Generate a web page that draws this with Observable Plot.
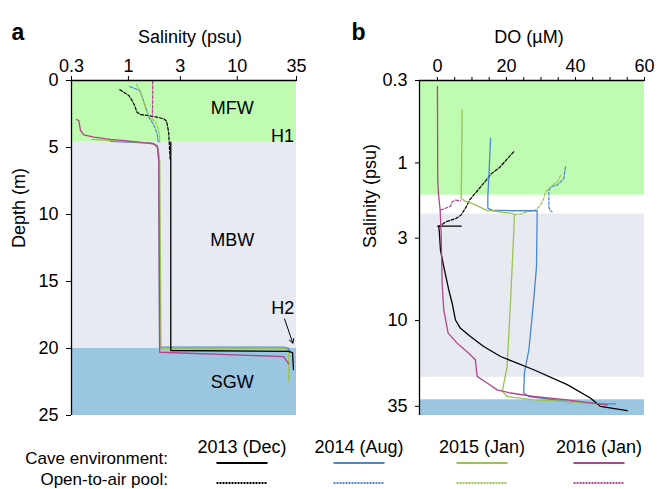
<!DOCTYPE html>
<html><head><meta charset="utf-8">
<script src="https://cdn.jsdelivr.net/npm/d3@7"></script>
<script src="https://cdn.jsdelivr.net/npm/@observablehq/plot@0.6"></script>
<style>
html,body{margin:0;padding:0;background:#fff;overflow:hidden;}
#root{position:relative;width:659px;height:489px;font-family:"Liberation Sans",Arial,Helvetica,sans-serif;}
#root > *{position:absolute;}
</style></head><body><div id="root"></div>
<script>
// ---------- data ----------
const years = ["2013 (Dec)", "2014 (Aug)", "2015 (Jan)", "2016 (Jan)"];
const rowLabels = ["Cave environment:", "Open-to-air pool:"];

// panel a: [salinity (psu), depth (m)]
const salTicks = [0.3, 1, 3, 10, 35];
const depthTicks = [0, 5, 10, 15, 20, 25];
const zonesA = ["MFW", "MBW", "SGW"];
const zoneTopA = [0, 4.55, 20];
const zoneBottomA = [4.55, 20, 25];

const cave2013A = [[2.45,4.6],[2.45,20.15],[29.6,20.22],[32.2,20.3],[32.8,21.57]];
const cave2014A = [[0.684,4.55],[0.975,4.6],[1.60,4.68],[1.84,4.85],[1.90,5.97],[1.93,19.9],[26.6,19.9],[29.6,20.0],[30.3,20.3]];
const cave2015A = [[0.465,4.40],[0.684,4.49],[0.975,4.55],[1.71,4.72],[1.88,5.10],[1.94,5.97],[1.99,19.98],[27.7,19.98],[29.7,20.3],[29.7,22.4]];
const cave2016A = [[0.333,2.91],[0.350,2.99],[0.363,3.73],[0.389,4.05],[0.481,4.23],[0.684,4.40],[0.975,4.50],[1.38,4.63],[1.71,4.72],[1.86,4.98],[1.90,5.97],[1.94,20.28],[26.7,20.6],[29.7,21.14]];
const pool2013A = [[0.834,0.69],[0.906,0.87],[1.01,1.12],[1.08,1.49],[1.14,1.87],[1.20,2.37],[1.29,2.54],[1.49,2.61],[1.84,2.74],[2.11,2.86],[2.24,3.04],[2.30,3.49],[2.35,3.98],[2.38,4.98],[2.42,5.97]];
const pool2014A = [[1.03,0.45],[1.16,0.62],[1.27,0.75],[1.34,1.25],[1.44,1.99],[1.51,2.49],[1.57,2.86],[1.65,3.11],[1.75,3.49],[1.84,3.98],[1.88,4.60]];
const pool2015A = [[1.19,0.25],[1.22,0.5],[1.29,0.87],[1.37,1.49],[1.44,2.11],[1.51,2.49],[1.60,2.78],[1.77,3.11],[1.86,3.49],[1.93,3.98],[1.94,4.60]];
const pool2016A = [[1.67,0.05],[1.67,1.5],[1.66,2.74]];

// panel b: [DO (uM), salinity (psu)]
const doTicks = [0,5,10,15,20,25,30,35,40,45,50,55,60];
const doTickLabels = [0, 20, 40, 60];
const salTicksB = [0.3, 1, 3, 10, 35];
const bandTopB = [0.3, 2.11, 31.8];
const bandBottomB = [1.60, 22.9, 40];

const cave2013B = [[6.87,2.52],[0.09,2.52],[0.38,2.54],[0.58,2.80],[0.87,3.57],[1.83,4.55],[3.28,6.39],[4.26,7.76],[5.22,9.91],[6.67,11.2],[9.57,12.6],[13.4,14.6],[18.3,16.9],[27.9,20.5],[37.6,25.5],[44.3,31.0],[47.2,35.0],[55.0,37.3]];
const cave2014B = [[15.4,0.70],[15.2,0.872],[14.9,1.23],[14.6,1.64],[14.6,1.94],[15.9,1.99],[22.1,2.01],[28.9,2.01],[28.9,2.04],[28.7,4.55],[27.9,7.39],[26.5,15.3],[25.2,21.5],[25.0,28.8],[26.5,30.3],[37.6,32.6],[47.2,33.6],[51.6,33.8]];
const cave2015B = [[7.16,0.459],[6.96,1.29],[6.87,1.68],[7.83,1.74],[10.2,1.81],[12.2,1.90],[14.1,1.99],[18.0,2.04],[21.8,2.09],[22.3,2.15],[22.1,2.8],[21.2,7.39],[20.2,19.5],[18.8,28.1],[20.2,30.3],[27.9,31.8],[37.6,32.6],[45.3,33.6],[49.2,34.5]];
const cave2016B = [[0,0.327],[0.09,1.29],[0.29,1.56],[0.58,1.81],[0.78,1.99],[0.87,2.2],[1.07,2.79],[1.36,5.8],[1.83,8.55],[3.10,12.0],[5.71,13.9],[9.07,16.1],[11.0,17.7],[11.5,22.6],[14.4,24.9],[17.3,27.5],[21.2,28.8],[27.9,30.3],[37.6,31.8],[44.3,33.3],[49.2,34.2]];
const pool2013B = [[0.29,2.54],[2.52,2.36],[5.42,2.25],[6.87,2.14],[8.32,1.90],[9.28,1.72],[11.7,1.49],[14.1,1.29],[15.6,1.17],[18.0,1.07],[19.9,0.96],[22.3,0.84]];
const pool2014B = [[37.1,1.06],[36.6,1.26],[34.7,1.38],[32.8,1.42],[32.3,1.50],[32.3,1.90],[32.6,2.0],[33.2,2.04]];
const pool2015B = [[35.7,1.20],[34.7,1.32],[32.8,1.42],[31.3,1.53],[30.8,1.68],[29.9,1.85],[28.4,1.99],[26.0,2.04],[24.1,2.11],[22.3,2.13]];
const pool2016B = [[0.87,1.99],[2.32,1.94],[3.77,1.88],[4.26,1.77],[5.22,1.72],[6.67,1.74]];

// ---------- styles ----------
const colors = ["#000000", "#4b87cf", "#9cc254", "#b1468a"];
const zoneFill = ["#bffbb0", "#e7eaf1", "#9bc6e1"];
const FONT = "'Liberation Sans', Arial, Helvetica, sans-serif";
const FS = 18;
const DASH = "3,1.8";
const LW = 1.3;

const seriesA = [
  [pool2013A,0,true],[pool2014A,1,true],[pool2015A,2,true],[pool2016A,3,true],
  [cave2014A,1,false],[cave2015A,2,false],[cave2013A,0,false],[cave2016A,3,false]
];
const seriesB = [
  [pool2013B,0,true],[pool2014B,1,true],[pool2015B,2,true],[pool2016B,3,true],
  [cave2014B,1,false],[cave2015B,2,false],[cave2013B,0,false],[cave2016B,3,false]
];
const lineMarks = (series) => series.map(([pts, yi, dashed]) =>
  Plot.line(pts, {x: d => d[0], y: d => d[1], stroke: colors[yi], strokeWidth: dashed ? 1.2 : LW,
    strokeDasharray: dashed ? DASH : null, curve: "linear"}));

const root = document.getElementById("root");
const style = {fontFamily: FONT, fontSize: FS + "px", background: "transparent", overflow: "visible", color: "#000"};

// ---------- panel a ----------
const zoneRowsA = zonesA.map((z, i) => ({z, top: zoneTopA[i], bottom: zoneBottomA[i], i}));
const plotA = Plot.plot({
  width: 330, height: 420,
  marginLeft: 71, marginRight: 34, marginTop: 80, marginBottom: 5,
  style,
  x: {type: "log", domain: [0.3, 35], axis: null},
  y: {domain: [0, 25], reverse: true, axis: null},
  marks: [
    Plot.rect(zoneRowsA, {y1: "top", y2: "bottom", fill: d => zoneFill[d.i]}),
    ...lineMarks(seriesA),
    Plot.axisX({anchor: "top", ticks: salTicks, tickFormat: d => String(d), tickSize: 5, tickPadding: 4, label: null, fontSize: FS}),
    Plot.axisY({anchor: "left", ticks: depthTicks, tickSize: 5, tickPadding: 8, label: null, fontSize: FS}),
    Plot.ruleX([0.3], {stroke: "#000", strokeWidth: 1.3}),
    Plot.ruleY([0], {stroke: "#000", strokeWidth: 1.3}),
    Plot.text([zonesA[0]], {x: 9.0, y: 2.1, text: d => d, fontSize: FS}),
    Plot.text([zonesA[1]], {x: 9.0, y: 11.9, text: d => d, fontSize: FS}),
    Plot.text([zonesA[2]], {x: 9.0, y: 22.5, text: d => d, fontSize: FS}),
    Plot.text(["H1"], {x: 26, y: 4.15, text: d => d, fontSize: FS}),
    Plot.text(["H2"], {x: 26.2, y: 17.0, text: d => d, fontSize: FS}),
    Plot.arrow([0], {x1: 27.2, y1: 17.8, x2: 32.4, y2: 19.6, stroke: "#000", strokeWidth: 1, headLength: 7}),
    Plot.text(["Salinity (psu)"], {frameAnchor: "top", dx: 6, dy: -50, text: d => d, fontSize: FS}),
    Plot.text(["Depth (m)"], {frameAnchor: "left", dx: -52, rotate: -90, text: d => d, fontSize: FS}),
    Plot.text(["a"], {frameAnchor: "top-left", dx: -60, dy: -57, text: d => d, textAnchor: "start", fontSize: 23, fontWeight: "bold"})
  ]
});
plotA.style.left = "0px"; plotA.style.top = "0px";
root.appendChild(plotA);

// ---------- panel b ----------
const bandRowsB = bandTopB.map((t, i) => ({top: t, bottom: bandBottomB[i], i}));
const plotB = Plot.plot({
  width: 329, height: 420,
  marginLeft: 89, marginRight: 15, marginTop: 80, marginBottom: 5,
  style,
  x: {domain: [-5.2, 60], axis: null},
  y: {type: "log", domain: [0.3, 40], reverse: true, axis: null},
  marks: [
    Plot.rect(bandRowsB, {y1: "top", y2: "bottom", fill: d => zoneFill[d.i]}),
    ...lineMarks(seriesB),
    Plot.axisX({anchor: "top", ticks: doTicks, tickFormat: d => doTickLabels.includes(d) ? String(d) : "", tickSize: 4, tickPadding: 5, label: null, fontSize: FS}),
    Plot.axisY({anchor: "left", ticks: salTicksB, tickFormat: d => String(d), tickSize: 4, tickPadding: 8, label: null, fontSize: FS}),
    Plot.ruleX([-5.2], {stroke: "#000", strokeWidth: 1.3}),
    Plot.ruleY([0.3], {stroke: "#000", strokeWidth: 1.3}),
    Plot.text(["DO (\u00b5M)"], {frameAnchor: "top", dx: -3, dy: -50, text: d => d, fontSize: FS}),
    Plot.text(["Salinity (psu)"], {frameAnchor: "left", dx: -49, rotate: -90, text: d => d, fontSize: FS}),
    Plot.text(["b"], {frameAnchor: "top-left", dx: -68, dy: -57, text: d => d, textAnchor: "start", fontSize: 23, fontWeight: "bold"})
  ]
});
plotB.style.left = "330px"; plotB.style.top = "0px";
root.appendChild(plotB);

// ---------- legend ----------
const legendX = [242, 359, 482, 599];
const svg = d3.select(root).append("svg")
  .attr("width", 659).attr("height", 64)
  .style("left", "0px").style("top", "425px")
  .style("font-family", FONT).style("font-size", FS + "px");
years.forEach((y, i) => {
  svg.append("text").attr("x", legendX[i]).attr("y", 28).attr("text-anchor", "middle").text(y);
  svg.append("line").attr("x1", legendX[i] - 25.5).attr("x2", legendX[i] + 25.5)
    .attr("y1", 38).attr("y2", 38).attr("stroke", colors[i]).attr("stroke-width", 2);
  svg.append("line").attr("x1", legendX[i] - 25.5).attr("x2", legendX[i] + 25.5)
    .attr("y1", 58).attr("y2", 58).attr("stroke", colors[i]).attr("stroke-width", 2).attr("stroke-dasharray", "2,1");
});
rowLabels.forEach((t, i) => {
  svg.append("text").attr("x", 168).attr("y", 39 + i * 21).attr("text-anchor", "end")
    .style("font-size", "17px").text(t);
});
</script></body></html>
